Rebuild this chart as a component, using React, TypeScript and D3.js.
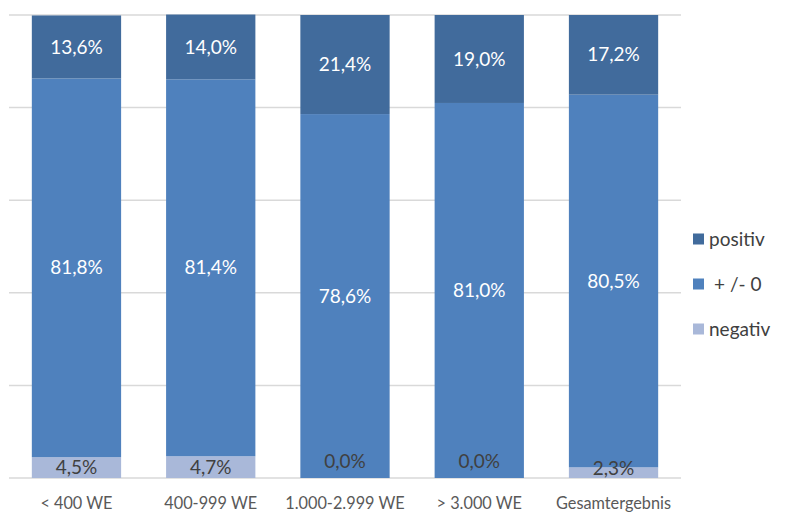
import React, { useRef, useEffect } from 'react';
import * as d3 from 'd3';

const categories = ['< 400 WE', '400-999 WE', '1.000-2.999 WE', '> 3.000 WE', 'Gesamtergebnis'];
const negativ = [4.5, 4.7, 0.0, 0.0, 2.3];
const neutral = [81.8, 81.4, 78.6, 81.0, 80.5];
const positiv = [13.6, 14.0, 21.4, 19.0, 17.2];
const yTicks = [0, 20, 40, 60, 80, 100];

const seriesNames = ['negativ', '+ /- 0', 'positiv'];
const colors = ['#A9B8D9', '#4F81BD', '#416B9C'];
const labelColors = ['#404040', '#ffffff', '#ffffff'];

const width = 787;
const height = 512;
const margin = { top: 15, right: 106, bottom: 34, left: 9 };
const font = 'Lato, "Open Sans", sans-serif';

const fmt = (v: number) => v.toFixed(1).replace('.', ',') + '%';

const App = () => {
  const svgRef = useRef<SVGSVGElement>(null);

  useEffect(() => {
    const svg = d3.select(svgRef.current);
    svg.selectAll('*').remove();

    const rows = categories.map((c, i) => ({ cat: c, s0: negativ[i], s1: neutral[i], s2: positiv[i] }));
    const stack = d3.stack<any>().keys(['s0', 's1', 's2']);
    const series = stack(rows);

    const x = d3.scaleBand()
      .domain(categories)
      .range([margin.left, width - margin.right])
      .paddingInner(0.335)
      .paddingOuter(0.17);

    const y = d3.scaleLinear()
      .domain([0, 100])
      .range([height - margin.bottom, margin.top]);

    // gridlines
    svg.append('g')
      .selectAll('line')
      .data(yTicks)
      .enter()
      .append('line')
      .attr('x1', margin.left)
      .attr('x2', width - margin.right)
      .attr('y1', d => y(d))
      .attr('y2', d => y(d))
      .attr('stroke', '#d9d9d9')
      .attr('stroke-width', 1.5);

    // bars
    series.forEach((s, si) => {
      svg.append('g')
        .selectAll('rect')
        .data(s)
        .enter()
        .append('rect')
        .attr('x', d => x(d.data.cat)!)
        .attr('y', d => y(d[1]))
        .attr('width', x.bandwidth())
        .attr('height', d => y(d[0]) - y(d[1]))
        .attr('fill', colors[si]);
    });

    // labels
    const base = y(0);
    series.forEach((s, si) => {
      svg.append('g')
        .selectAll('text')
        .data(s)
        .enter()
        .append('text')
        .attr('x', d => x(d.data.cat)! + x.bandwidth() / 2)
        .attr('y', d => {
          const v = d[1] - d[0];
          const c = (y(d[0]) + y(d[1])) / 2;
          if (v === 0) return base - 17;
          return Math.min(c, base - 10);
        })
        .attr('dy', '0.35em')
        .attr('text-anchor', 'middle')
        .attr('font-family', font)
        .attr('font-size', 19)
        .attr('fill', d => (d[1] - d[0] === 0 ? '#404040' : labelColors[si]))
        .text(d => fmt(d[1] - d[0]));
    });

    // x axis labels
    svg.append('g')
      .selectAll('text')
      .data(categories)
      .enter()
      .append('text')
      .attr('x', d => x(d)! + x.bandwidth() / 2)
      .attr('y', 503)
      .attr('dy', '0.35em')
      .attr('text-anchor', 'middle')
      .attr('font-family', font)
      .attr('font-size', 16.3)
      .attr('fill', '#595959')
      .text(d => d);

    // legend
    const legend = svg.append('g');
    const order = [2, 1, 0];
    order.forEach((si, k) => {
      const ly = 239 + k * 45;
      legend.append('rect')
        .attr('x', 693)
        .attr('y', ly - 5.5)
        .attr('width', 11)
        .attr('height', 11)
        .attr('fill', colors[si]);
      legend.append('text')
        .attr('x', si === 1 ? 714 : 709)
        .attr('y', ly)
        .attr('dy', '0.35em')
        .attr('font-family', font)
        .attr('font-size', 19)
        .attr('fill', '#404040')
        .text(seriesNames[si]);
    });
  }, []);

  return (
    <svg
      ref={svgRef}
      width={width}
      height={height}
      style={{ position: 'absolute', left: 0, top: 0, background: '#fff' }}
    ></svg>
  );
};

export default App;
